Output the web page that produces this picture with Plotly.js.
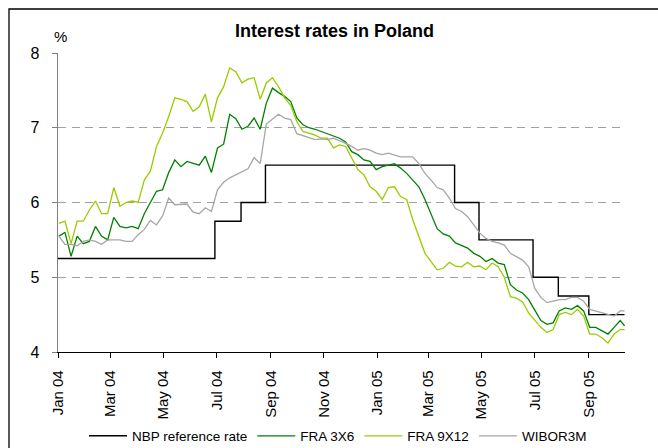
<!DOCTYPE html>
<html>
<head>
<meta charset="utf-8">
<script src="https://cdn.plot.ly/plotly-3.0.1.min.js"></script>
<style>
html,body{margin:0;padding:0;background:#fff;}
#chart{width:658px;height:448px;}
</style>
</head>
<body>
<div id="chart"></div>
<script>
// Weekly observation dates (Fridays)
const dates = [
'2004-01-02','2004-01-09','2004-01-16','2004-01-23','2004-01-30',
'2004-02-06','2004-02-13','2004-02-20','2004-02-27',
'2004-03-05','2004-03-12','2004-03-19','2004-03-26',
'2004-04-02','2004-04-09','2004-04-16','2004-04-23','2004-04-30',
'2004-05-07','2004-05-14','2004-05-21','2004-05-28',
'2004-06-04','2004-06-11','2004-06-18','2004-06-25',
'2004-07-02','2004-07-09','2004-07-16','2004-07-23','2004-07-30',
'2004-08-06','2004-08-13','2004-08-20','2004-08-27',
'2004-09-03','2004-09-10','2004-09-17','2004-09-24',
'2004-10-01','2004-10-08','2004-10-15','2004-10-22','2004-10-29',
'2004-11-05','2004-11-12','2004-11-19','2004-11-26',
'2004-12-03','2004-12-10','2004-12-17','2004-12-24','2004-12-31',
'2005-01-07','2005-01-14','2005-01-21','2005-01-28',
'2005-02-04','2005-02-11','2005-02-18','2005-02-25',
'2005-03-04','2005-03-11','2005-03-18','2005-03-25',
'2005-04-01','2005-04-08','2005-04-15','2005-04-22','2005-04-29',
'2005-05-06','2005-05-13','2005-05-20','2005-05-27',
'2005-06-03','2005-06-10','2005-06-17','2005-06-24',
'2005-07-01','2005-07-08','2005-07-15','2005-07-22','2005-07-29',
'2005-08-05','2005-08-12','2005-08-19','2005-08-26',
'2005-09-02','2005-09-09','2005-09-16','2005-09-23','2005-09-30',
'2005-10-07','2005-10-12'
];

const fra3x6 = [
5.55,5.60,5.28,5.55,5.45,5.48,5.68,5.55,5.50,5.80,
5.68,5.66,5.68,5.65,5.85,6.00,6.15,6.17,6.40,6.57,
6.48,6.55,6.53,6.50,6.62,6.40,6.73,6.78,7.18,7.12,
6.98,7.02,7.13,6.98,7.33,7.53,7.47,7.42,7.35,7.13,
7.04,7.00,6.98,6.95,6.93,6.90,6.86,6.81,6.68,6.64,
6.57,6.55,6.44,6.48,6.50,6.52,6.46,6.39,6.30,6.21,
6.04,5.84,5.65,5.58,5.55,5.46,5.43,5.39,5.32,5.28,
5.21,5.25,5.19,5.17,4.90,4.83,4.79,4.70,4.56,4.42,
4.37,4.39,4.55,4.59,4.57,4.62,4.55,4.33,4.33,4.28,
4.24,4.33,4.42,4.35
];

const fra9x12 = [
5.72,5.75,5.45,5.75,5.75,5.90,6.02,5.85,5.85,6.20,
5.95,6.00,6.02,6.00,6.30,6.42,6.75,6.93,7.15,7.40,
7.38,7.35,7.22,7.28,7.45,7.08,7.40,7.55,7.80,7.75,
7.60,7.65,7.67,7.38,7.60,7.67,7.55,7.40,7.30,7.08,
6.95,6.93,6.90,6.86,6.86,6.73,6.77,6.75,6.60,6.44,
6.37,6.21,6.15,6.04,6.20,6.21,6.08,6.04,5.77,5.55,
5.32,5.21,5.10,5.12,5.20,5.15,5.14,5.20,5.14,5.15,
5.10,5.19,5.14,5.00,4.74,4.72,4.67,4.52,4.43,4.33,
4.26,4.30,4.50,4.53,4.50,4.57,4.48,4.24,4.24,4.19,
4.12,4.24,4.30,4.30
];

const wibor3m = [
5.55,5.44,5.44,5.42,5.48,5.50,5.48,5.44,5.50,5.50,
5.50,5.48,5.48,5.57,5.64,5.76,5.70,5.82,6.06,5.97,
5.98,5.98,5.87,5.85,5.93,5.88,6.17,6.27,6.33,6.37,
6.40,6.45,6.60,6.52,7.05,7.12,7.18,7.13,7.11,6.92,
6.89,6.86,6.84,6.85,6.84,6.86,6.83,6.79,6.75,6.70,
6.72,6.70,6.66,6.64,6.66,6.64,6.61,6.61,6.61,6.52,
6.39,6.30,6.20,6.17,6.06,5.92,5.88,5.81,5.70,5.59,
5.52,5.48,5.46,5.43,5.32,5.28,5.23,5.14,4.85,4.73,
4.66,4.68,4.70,4.70,4.73,4.73,4.68,4.57,4.55,4.53,
4.50,4.48,4.55,4.55
];

// NBP reference rate decision dates and levels (step function)
const nbpDates = ['2004-01-01','2004-06-29','2004-07-29','2004-08-26','2005-03-31','2005-04-28','2005-06-29','2005-07-28','2005-09-01','2005-10-12'];
const nbpRate  = [5.25,5.75,6.00,6.50,6.00,5.50,5.00,4.75,4.50,4.50];

const tickDates  = ['2004-01-01','2004-03-01','2004-05-01','2004-07-01','2004-09-01','2004-11-01','2005-01-01','2005-03-01','2005-05-01','2005-07-01','2005-09-01'];
const tickLabels = ['Jan 04','Mar 04','May 04','Jul 04','Sep 04','Nov 04','Jan 05','Mar 05','May 05','Jul 05','Sep 05'];
const yTicks = [4,5,6,7,8];

const fam = 'Liberation Sans, Arial, sans-serif';

const traces = [
  {x: nbpDates, y: nbpRate, name: 'NBP reference rate', type: 'scatter', mode: 'lines',
   line: {color: '#000000', width: 1.4, shape: 'hv'}},
  {x: dates, y: fra3x6, name: 'FRA 3X6', type: 'scatter', mode: 'lines',
   line: {color: '#008000', width: 1.3}},
  {x: dates, y: fra9x12, name: 'FRA 9X12', type: 'scatter', mode: 'lines',
   line: {color: '#99cc00', width: 1.3}},
  {x: dates, y: wibor3m, name: 'WIBOR3M', type: 'scatter', mode: 'lines',
   line: {color: '#a6a6a6', width: 1.3}}
];

const layout = {
  width: 658, height: 448,
  margin: {l: 58, r: 33, t: 53, b: 96},
  paper_bgcolor: '#ffffff', plot_bgcolor: '#ffffff',
  showlegend: true,
  title: {text: 'Interest rates in Poland', font: {family: fam, size: 18, color: '#000', weight: 'bold'},
          x: (334.5 - 58) / 567, xref: 'paper', xanchor: 'center', y: 0.932, yref: 'container', yanchor: 'middle'},
  xaxis: {
    type: 'date', range: ['2004-01-01', '2005-10-12 12:00'],
    tickmode: 'array', tickvals: tickDates, ticktext: tickLabels,
    tickangle: -90, ticks: 'outside', ticklen: 5, tickcolor: '#000', tickwidth: 1,
    tickfont: {family: fam, size: 15, color: '#000'},
    showgrid: false, zeroline: false,
    showline: true, linecolor: '#000', linewidth: 1.3,
    ticklabelstandoff: 6, fixedrange: true
  },
  yaxis: {
    range: [4, 8], tickmode: 'array', tickvals: yTicks,
    ticks: 'outside', ticklen: 5, tickcolor: '#808080', tickwidth: 1,
    tickfont: {family: fam, size: 16, color: '#000'},
    showgrid: true, gridcolor: '#a0a0a0', gridwidth: 1, griddash: '8px,5.5px',
    zeroline: false, showline: true, linecolor: '#808080', linewidth: 1.5,
    ticklabelstandoff: 9, fixedrange: true
  },
  legend: {orientation: 'h', xref: 'container', yref: 'container', x: 338/658, xanchor: 'center', y: 1 - 436/448, yanchor: 'middle',
           font: {family: fam, size: 13.5, color: '#000'}, bgcolor: 'rgba(0,0,0,0)', traceorder: 'normal', itemwidth: 38},
  annotations: [
    {text: '%', xref: 'paper', yref: 'paper', x: (60-58)/567, y: (352-36)/299, xanchor: 'center', yanchor: 'middle',
     showarrow: false, font: {family: fam, size: 15, color: '#000'}}
  ],
  shapes: [
    {type: 'rect', xref: 'paper', yref: 'paper', x0: (9-58)/567, x1: (720-58)/567, y0: (352-520)/299, y1: (352-9)/299,
     line: {color: '#000', width: 1.3}, fillcolor: 'rgba(0,0,0,0)', layer: 'above'}
  ]
};

Plotly.newPlot('chart', traces, layout, {displayModeBar: false, staticPlot: true});
</script>
</body>
</html>
